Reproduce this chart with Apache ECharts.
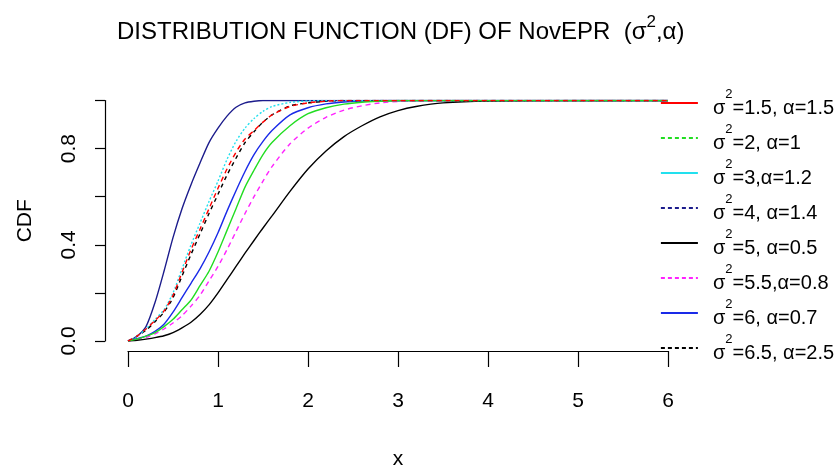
<!DOCTYPE html>
<html>
<head>
<meta charset="utf-8">
<script src="https://cdn.jsdelivr.net/npm/echarts@6/dist/echarts.min.js"></script>
<style>html,body{margin:0;padding:0;background:#fff}#c{width:838px;height:475px}</style>
</head>
<body>
<div id="c"></div>
<script>
// ---- data ----
const xs = [0,0.1,0.2,0.3,0.4,0.5,0.6,0.7,0.8,0.9,1.0,1.1,1.2,1.3,1.4,1.5,1.6,1.8,2.0,2.2,2.4,2.6,2.8,3.0,3.2,3.5,4,5,6];
const cdfS15A15 = [0,0.02,0.05,0.085,0.125,0.19,0.285,0.38,0.465,0.55,0.635,0.715,0.785,0.84,0.875,0.91,0.94,0.975,0.99,0.997,1,1,1,1,1,1,1,1,1];
const cdfS2A1   = [0,0.008,0.02,0.035,0.06,0.09,0.13,0.17,0.23,0.29,0.37,0.46,0.55,0.64,0.71,0.775,0.825,0.895,0.945,0.97,0.985,0.993,0.997,1,1,1,1,1,1];
const cdfS3A12  = [0,0.02,0.05,0.09,0.13,0.2,0.3,0.4,0.49,0.58,0.665,0.755,0.83,0.885,0.925,0.955,0.975,0.992,0.998,1,1,1,1,1,1,1,1,1,1];
const cdfS4A14  = [0,0.02,0.06,0.16,0.29,0.43,0.55,0.65,0.74,0.825,0.885,0.935,0.972,0.99,0.997,1,1,1,1,1,1,1,1,1,1,1,1,1,1];
const cdfS5A05  = [0,0.003,0.008,0.014,0.022,0.035,0.055,0.078,0.11,0.15,0.2,0.255,0.31,0.365,0.418,0.47,0.52,0.622,0.715,0.79,0.85,0.895,0.932,0.958,0.975,0.99,0.998,1,1];
const cdfS55A08 = [0,0.006,0.015,0.03,0.05,0.075,0.105,0.145,0.19,0.25,0.31,0.38,0.455,0.53,0.6,0.665,0.725,0.82,0.885,0.93,0.96,0.978,0.99,0.996,1,1,1,1,1];
const cdfS6A07  = [0,0.01,0.02,0.04,0.07,0.12,0.18,0.24,0.3,0.37,0.45,0.54,0.625,0.705,0.775,0.83,0.875,0.94,0.97,0.986,0.994,0.998,1,1,1,1,1,1,1];
const cdfS65A25 = [0,0.02,0.045,0.08,0.12,0.18,0.27,0.36,0.445,0.53,0.61,0.69,0.76,0.825,0.87,0.91,0.94,0.978,0.99,0.997,1,1,1,1,1,1,1,1,1];

const legendTails = ['=1.5, α=1.5','=2, α=1','=3,α=1.2','=4, α=1.4','=5, α=0.5','=5.5,α=0.8','=6, α=0.7','=6.5, α=2.5'];
const seriesValues = [cdfS15A15, cdfS2A1, cdfS3A12, cdfS4A14, cdfS5A05, cdfS55A08, cdfS6A07, cdfS65A25];
const xTicks = [0,1,2,3,4,5,6];
const yLabelVals = [0, 0.4, 0.8];

// ---- styles ----
const colors = ['#ff0000','#22dd22','#22e0ee','#1c1c8c','#000000','#ff22ff','#1a2ae8','#000000'];
const plotDash = [[5,4],'solid',[2,2],'solid','solid',[5,4],'solid',[4,4]];
const legendDash = ['solid',[4,3],'solid',[4,3],'solid',[4,3],'solid',[4,3]];
const FONT = "'Liberation Sans', Arial, sans-serif";

const names = legendTails.map(t => 'σ2' + t);
const series = names.map((n, i) => ({
  name: n, type: 'line', symbol: 'none', showSymbol: false, smooth: 0.25,
  data: xs.map((x, j) => [x, seriesValues[i][j]]),
  lineStyle: { color: colors[i], width: 1.4, type: plotDash[i] },
  itemStyle: { color: colors[i] },
  z: 2 + (8 - i)
}));

const chart = echarts.init(document.getElementById('c'), null, { renderer: 'canvas' });
chart.setOption({
  animation: false,
  backgroundColor: '#ffffff',
  title: {
    text: '{t|DISTRIBUTION FUNCTION (DF) OF NovEPR  (σ}{s|2}{t|,α)}',
    left: 117, top: 14, padding: 0,
    textStyle: {
      rich: {
        t: { fontFamily: FONT, fontSize: 24, fontWeight: 'normal', color: '#000', lineHeight: 30, verticalAlign: 'bottom' },
        s: { fontFamily: FONT, fontSize: 17, fontWeight: 'normal', color: '#000', lineHeight: 17, verticalAlign: 'top' }
      }
    }
  },
  grid: { left: 128, top: 100.5, width: 540, height: 243.5, containLabel: false },
  xAxis: {
    type: 'value', min: 0, max: 6, interval: 1, offset: 10,
    name: 'x', nameLocation: 'middle', nameGap: 98,
    nameTextStyle: { fontFamily: FONT, fontSize: 21, color: '#000' },
    axisLine: { show: true, onZero: false, lineStyle: { color: '#000', width: 1.2 } },
    axisTick: { show: true, length: 16, lineStyle: { color: '#000', width: 1.2 } },
    axisLabel: { margin: 40, fontFamily: FONT, fontSize: 21, color: '#000',
      formatter: v => xTicks.includes(v) ? String(v) : '' },
    splitLine: { show: false }
  },
  yAxis: {
    type: 'value', min: 0, max: 1, interval: 0.2, offset: 23,
    name: 'CDF', nameLocation: 'middle', nameGap: 69,
    nameTextStyle: { fontFamily: FONT, fontSize: 21, color: '#000' },
    axisLine: { show: true, onZero: false, lineStyle: { color: '#000', width: 1.2 } },
    axisTick: { show: true, length: 10, lineStyle: { color: '#000', width: 1.2 } },
    axisLabel: { rotate: 90, margin: 25, fontFamily: FONT, fontSize: 21, color: '#000',
      formatter: v => yLabelVals.some(u => Math.abs(u - v) < 1e-9) ? v.toFixed(1) : '' },
    splitLine: { show: false }
  },
  legend: {
    orient: 'vertical', left: 660, top: 88, padding: 0,
    itemWidth: 37, itemHeight: 14, itemGap: 5,
    data: names.map((n, i) => ({
      name: n,
      icon: 'inherit',
      lineStyle: { color: colors[i], width: 1.8, type: legendDash[i] },
      itemStyle: { opacity: 0 }
    })),
    formatter: n => '{g|}{b|σ}{s|2}{b|' + n.slice(2) + '}',
    textStyle: {
      rich: {
        g: { width: 10 },
        b: { fontFamily: FONT, fontSize: 20, color: '#000', lineHeight: 30, verticalAlign: 'bottom' },
        s: { fontFamily: FONT, fontSize: 13, color: '#000', lineHeight: 13, verticalAlign: 'top' }
      }
    }
  },
  series: series
});
</script>
</body>
</html>
